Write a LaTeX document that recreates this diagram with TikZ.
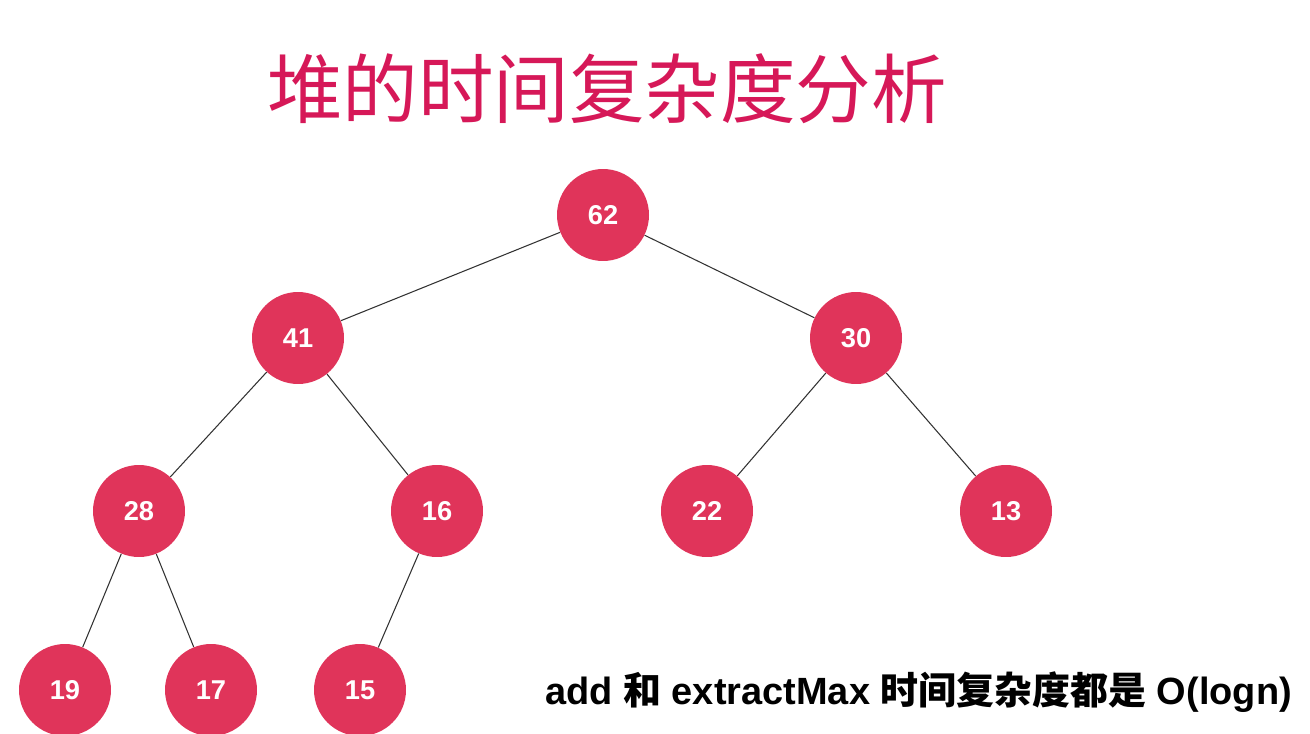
\documentclass[tikz,border=0pt]{standalone}
\usepackage{fontspec}
\setmainfont{Liberation Sans}
\newfontfamily\cjk{Noto Sans CJK SC}
\definecolor{HeapRed}{RGB}{224,52,90}
\definecolor{TitlePink}{RGB}{214,24,88}
\definecolor{EdgeGray}{RGB}{50,50,50}
\usepackage{tikz}
\usetikzlibrary{positioning}

\begin{document}
\begin{tikzpicture}[x=0.02cm, y=-0.02cm,
      heapnode/.style={circle, fill=HeapRed, draw=none, minimum size=1.84cm,
                       inner sep=0pt, text=white,
                       font=\fontsize{15.5}{18}\selectfont\bfseries},
      heapedge/.style={draw=EdgeGray, line width=0.6pt}
    ]
      \useasboundingbox[fill=white] (0,0) rectangle (1310,733);

      % title
      \node[text=TitlePink, font=\fontsize{43}{48}\selectfont\cjk] (title) at (607,89) {堆的时间复杂度分析};

      % heap nodes, level by level
      \node[heapnode] (n62) at (603,215) {62};
      \node[heapnode] (n41) at (298,338) {41};
      \node[heapnode] (n30) at (856,338) {30};
      \node[heapnode] (n28) at (139,511) {28};
      \node[heapnode] (n16) at (437,511) {16};
      \node[heapnode] (n22) at (707,511) {22};
      \node[heapnode] (n13) at (1006,511) {13};
      \node[heapnode] (n19) at (65,690)  {19};
      \node[heapnode] (n17) at (211,690) {17};
      \node[heapnode] (n15) at (360,690) {15};

      % edges
      \draw[heapedge] (n62) -- (n41);
      \draw[heapedge] (n62) -- (n30);
      \draw[heapedge] (n41) -- (n28);
      \draw[heapedge] (n41) -- (n16);
      \draw[heapedge] (n30) -- (n22);
      \draw[heapedge] (n30) -- (n13);
      \draw[heapedge] (n28) -- (n19);
      \draw[heapedge] (n28) -- (n17);
      \draw[heapedge] (n16) -- (n15);

      % complexity note
      \node[anchor=east, font=\fontsize{21.6}{25}\selectfont\bfseries] (note) at (1298,692)
        {add {\cjk 和} extractMax {\cjk 时间复杂度都是} O(logn)};
    \end{tikzpicture}
\end{document}
